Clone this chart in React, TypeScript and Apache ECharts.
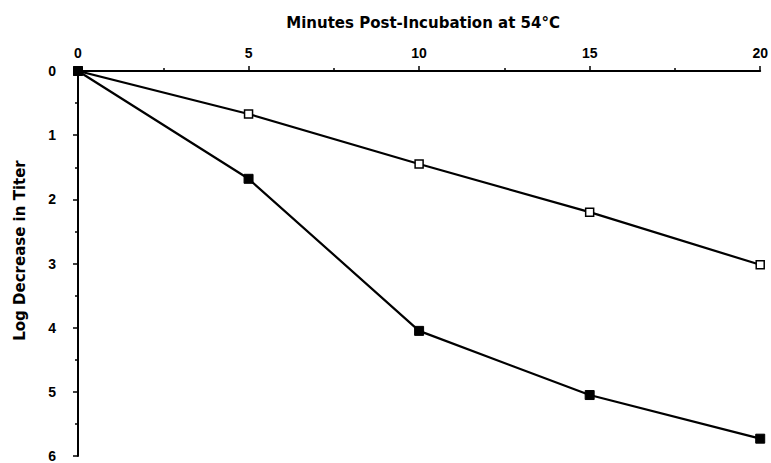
import React, { useEffect, useRef } from "react";
import * as echarts from "echarts";

const minutes = [0, 5, 10, 15, 20];
const openSquares = [0, 0.67, 1.45, 2.2, 3.02];
const filledSquares = [0, 1.68, 4.05, 5.05, 5.73];

export default function App() {
  const ref = useRef<HTMLDivElement>(null);
  useEffect(() => {
    if (!ref.current) return;
    const chart = echarts.init(ref.current, null, { renderer: "svg" });
    const font = "Liberation Sans, Arial, sans-serif";
    const nameFont = "DejaVu Sans, Liberation Sans, sans-serif";
    chart.setOption({
      animation: false,
      backgroundColor: "#fff",
      grid: { left: 78, top: 71, right: 7, bottom: 7, containLabel: false },
      xAxis: {
        type: "value",
        position: "top",
        min: 0,
        max: 20,
        interval: 5,
        name: "Minutes Post-Incubation at 54°C",
        nameLocation: "middle",
        nameGap: 41,
        nameTextStyle: {
          fontFamily: nameFont,
          fontWeight: "bold",
          fontSize: 15,
          color: "#000",
          padding: [0, 0, 0, 8],
        },
        axisLine: { show: true, lineStyle: { color: "#000", width: 2 } },
        axisTick: { show: true, length: 5, lineStyle: { color: "#000", width: 1.5 } },
        minorTick: { show: true, splitNumber: 2, length: 3, lineStyle: { color: "#000", width: 1.5 } },
        splitLine: { show: false },
        axisLabel: { fontFamily: font, fontWeight: "bold", fontSize: 14, color: "#000", margin: 11 },
      },
      yAxis: {
        type: "value",
        inverse: true,
        min: 0,
        max: 6,
        interval: 1,
        name: "Log Decrease in Titer",
        nameLocation: "middle",
        nameGap: 51,
        nameTextStyle: {
          fontFamily: nameFont,
          fontWeight: "bold",
          fontSize: 15,
          color: "#000",
          padding: [0, 0, 0, 26],
        },
        axisLine: { show: true, lineStyle: { color: "#000", width: 2 } },
        axisTick: { show: true, length: 5, lineStyle: { color: "#000", width: 1.5 } },
        minorTick: { show: true, splitNumber: 2, length: 3, lineStyle: { color: "#000", width: 1.5 } },
        splitLine: { show: false },
        axisLabel: { fontFamily: font, fontWeight: "bold", fontSize: 14, color: "#000", margin: 22 },
      },
      series: [
        {
          type: "line",
          data: minutes.map((m, i) => [m, openSquares[i]]),
          symbol: "rect",
          symbolSize: 8,
          lineStyle: { color: "#000", width: 2.2 },
          itemStyle: { color: "#fff", borderColor: "#000", borderWidth: 1.5 },
          z: 2,
        },
        {
          type: "line",
          data: minutes.map((m, i) => [m, filledSquares[i]]),
          symbol: "rect",
          symbolSize: 9,
          lineStyle: { color: "#000", width: 2.2 },
          itemStyle: { color: "#000", borderColor: "#000", borderWidth: 1 },
          z: 3,
        },
      ],
    });
    return () => chart.dispose();
  }, []);
  return <div ref={ref} style={{ width: 771, height: 463, position: "absolute", left: 0, top: 0 }} />;
}
